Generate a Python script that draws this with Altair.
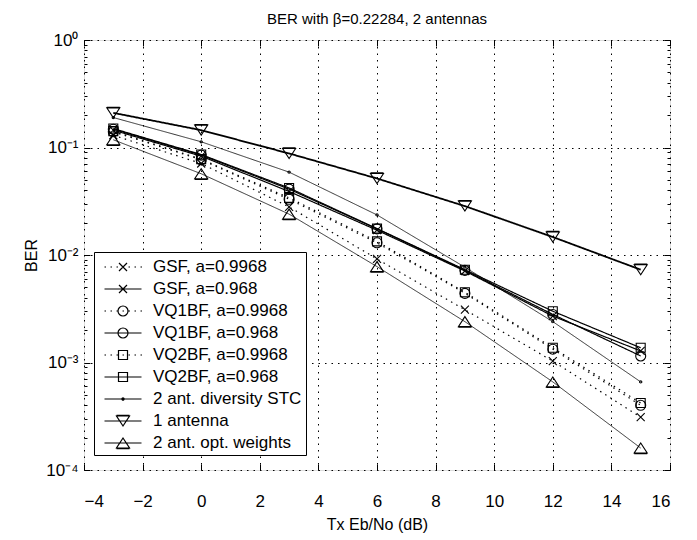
import altair as alt
import pandas as pd

# ---------------- data ----------------
x_db = [-3, 0, 3, 6, 9, 12, 15]
series_names = [
    "GSF, a=0.9968", "GSF, a=0.968",
    "VQ1BF, a=0.9968", "VQ1BF, a=0.968",
    "VQ2BF, a=0.9968", "VQ2BF, a=0.968",
    "2 ant. diversity STC", "1 antenna", "2 ant. opt. weights",
]
gsf_9968 = [0.130, 0.071, 0.028, 0.0092, 0.0031, 0.00103, 0.00031]
gsf_968 = [0.145, 0.083, 0.039, 0.0170, 0.0071, 0.00270, 0.00128]
vq1_9968 = [0.140, 0.077, 0.033, 0.0130, 0.0044, 0.00133, 0.00040]
vq1_968 = [0.148, 0.085, 0.041, 0.0175, 0.0072, 0.00280, 0.00115]
vq2_9968 = [0.142, 0.078, 0.034, 0.0134, 0.0045, 0.00137, 0.00042]
vq2_968 = [0.150, 0.086, 0.042, 0.0176, 0.0073, 0.00300, 0.00137]
stc = [0.190, 0.113, 0.059, 0.0236, 0.0077, 0.00240, 0.00066]
one_ant = [0.210, 0.145, 0.088, 0.0515, 0.0285, 0.01470, 0.00730]
opt_w = [0.118, 0.057, 0.024, 0.0078, 0.0024, 0.00066, 0.00016]
all_series = [gsf_9968, gsf_968, vq1_9968, vq1_968, vq2_9968, vq2_968, stc, one_ant, opt_w]

x_ticks = [-4, -2, 0, 2, 4, 6, 8, 10, 12, 14, 16]
y_major = [1e-4, 1e-3, 1e-2, 1e-1, 1]
y_minor = [k * 10.0 ** e for e in range(-4, 0) for k in range(2, 10)]

rows = []
for name, vals in zip(series_names, all_series):
    for xv, bv in zip(x_db, vals):
        rows.append({"x": xv, "ber": bv, "series": name})
df = pd.DataFrame(rows)

# ---------------- marker shapes (SVG paths) ----------------
def p(v):
    return f"{v:.3f}"

def x_mark(r):
    return f"M{p(-r)},{p(-r)}L{p(r)},{p(r)}M{p(-r)},{p(r)}L{p(r)},{p(-r)}"

def circ(r):
    return f"M{p(r)},0A{p(r)} {p(r)} 0 1 1 {p(-r)},0A{p(r)} {p(r)} 0 1 1 {p(r)},0Z"

def sq(r):
    return f"M{p(-r)},{p(-r)}L{p(r)},{p(-r)}L{p(r)},{p(r)}L{p(-r)},{p(r)}Z"

def tri_down(w, h):
    return (f"M{p(-w)},{p(-h)}L{p(w)},{p(-h)}L0,{p(h)}Z"
            f"M{p(-w)},{p(-h - 0.12 * h)}L{p(w)},{p(-h - 0.12 * h)}")

def tri_up(w, h):
    return (f"M{p(-w)},{p(h)}L{p(w)},{p(h)}L0,{p(-h)}Z"
            f"M{p(-w)},{p(h + 0.12 * h)}L{p(w)},{p(h + 0.12 * h)}")

def markers(s):
    return [x_mark(0.8 * s), x_mark(0.8 * s), circ(1.0 * s), circ(1.0 * s),
            sq(0.9 * s), sq(0.9 * s), circ(0.22 * s), tri_down(1.3 * s, 1.0 * s),
            tri_up(1.3 * s, 1.0 * s)]

solid_line = "M-1.85,0L1.85,0"
dotted_line = "".join(f"M{p(-1.85 + i * 0.6)},0L{p(-1.85 + i * 0.6 + 0.15)},0" for i in range(7))
line_kind = [dotted_line, solid_line, dotted_line, solid_line, dotted_line, solid_line,
             solid_line, solid_line, solid_line]
legend_shapes = [lk + m for lk, m in zip(line_kind, markers(0.5))]
plot_shapes = markers(1.0)

FONT = "Liberation Sans"
xscale = alt.Scale(domain=[-4, 16], nice=False, zero=False)
yscale = alt.Scale(type="log", domain=[1e-4, 1], nice=False)

label_expr = ("'10' + (datum.value >= 0.5 ? '\u2070' : '\u207b' + "
              "['\u2070','\u00b9','\u00b2','\u00b3','\u2074'][round(-log(datum.value)/LN10)])")

def tick_axis(orient, values, size):
    return alt.Axis(orient=orient, values=values, labels=False, ticks=True, tickSize=size,
                    offset=-size, domain=False, grid=False, title=None,
                    tickColor="black", tickWidth=1)

base = alt.Chart(df)

lines = base.mark_line(color="black").encode(
    x=alt.X("x:Q", scale=xscale, axis=alt.Axis(
        orient="bottom", values=x_ticks, title="Tx Eb/No (dB)", ticks=False, tickSize=0,
        domain=False, grid=True, gridDash=[1.5, 5], gridColor="black", gridOpacity=1,
        gridWidth=1, labelFontSize=17, labelPadding=23, titleFontSize=16,
        titlePadding=7, titleFontWeight="normal")),
    y=alt.Y("ber:Q", scale=yscale, axis=alt.Axis(
        orient="left", values=y_major, labelExpr=label_expr, title="BER", ticks=False,
        tickSize=0, domain=False, grid=True, gridDash=[1.5, 5], gridColor="black",
        gridOpacity=1, gridWidth=1, labelFontSize=17, labelPadding=6, titleFontSize=16,
        titlePadding=6, titleFontWeight="normal")),
    strokeDash={"condition": {"test": "indexof(datum.series, '0.9968') >= 0", "value": [1.5, 4.5]},
                "value": [1, 0]},
    strokeWidth={"condition": [
        {"test": "datum.series == '1 antenna'", "value": 1.8},
        {"test": "datum.series == '2 ant. diversity STC' || datum.series == '2 ant. opt. weights'",
         "value": 0.8}], "value": 1.2},
    detail="series:N",
)

pts = base.mark_point(filled=False, color="black", strokeWidth=1.1, size=100, opacity=1).encode(
    x=alt.X("x:Q", scale=xscale, axis=tick_axis("top", x_ticks, 6)),
    y=alt.Y("ber:Q", scale=yscale, axis=tick_axis("right", y_major, 6)),
    shape=alt.Shape("series:N", scale=alt.Scale(domain=series_names, range=plot_shapes), legend=None),
)

leg = base.mark_point(filled=False, color="black", opacity=0, size=400).encode(
    x=alt.X("x:Q", scale=xscale, axis=tick_axis("bottom", x_ticks, 6)),
    y=alt.Y("ber:Q", scale=yscale, axis=tick_axis("left", y_major, 6)),
    shape=alt.Shape("series:N", scale=alt.Scale(domain=series_names, range=legend_shapes),
                    legend=alt.Legend(title=None, orient="none", legendX=10, legendY=212,
                                      symbolSize=400, symbolOffset=14, labelOffset=19,
                                      labelFontSize=17, labelFont=FONT, labelColor="black",
                                      strokeColor="black", fillColor="white", padding=4,
                                      rowPadding=3, symbolStrokeWidth=1.2,
                                      symbolStrokeColor="black", symbolFillColor="transparent",
                                      symbolOpacity=1, labelLimit=400)),
)

minor_left = base.mark_point(opacity=0).encode(
    x=alt.X("x:Q", scale=xscale, axis=None),
    y=alt.Y("ber:Q", scale=yscale, axis=tick_axis("left", y_minor, 3)),
)
minor_right = base.mark_point(opacity=0).encode(
    x=alt.X("x:Q", scale=xscale, axis=None),
    y=alt.Y("ber:Q", scale=yscale, axis=tick_axis("right", y_minor, 3)),
)

chart = alt.layer(lines, pts, leg, minor_left, minor_right).resolve_scale(
    shape="independent"
).resolve_axis(
    x="independent", y="independent"
).properties(
    width=586, height=430,
    padding={"left": 76, "top": 32, "right": 15, "bottom": 70},
    autosize=alt.AutoSizeParams(type="none"),
    title=alt.TitleParams("BER with \u03b2=0.22284, 2 antennas", fontSize=15,
                          fontWeight="normal", font=FONT, color="black", offset=4,
                          anchor="middle", frame="group"),
).configure_view(
    stroke="black", strokeWidth=1.2
).configure_axis(
    labelFont=FONT, titleFont=FONT, labelColor="black", titleColor="black"
).configure(background="white")

chart.save("out.html", embed_options={"renderer": "svg", "actions": False})
